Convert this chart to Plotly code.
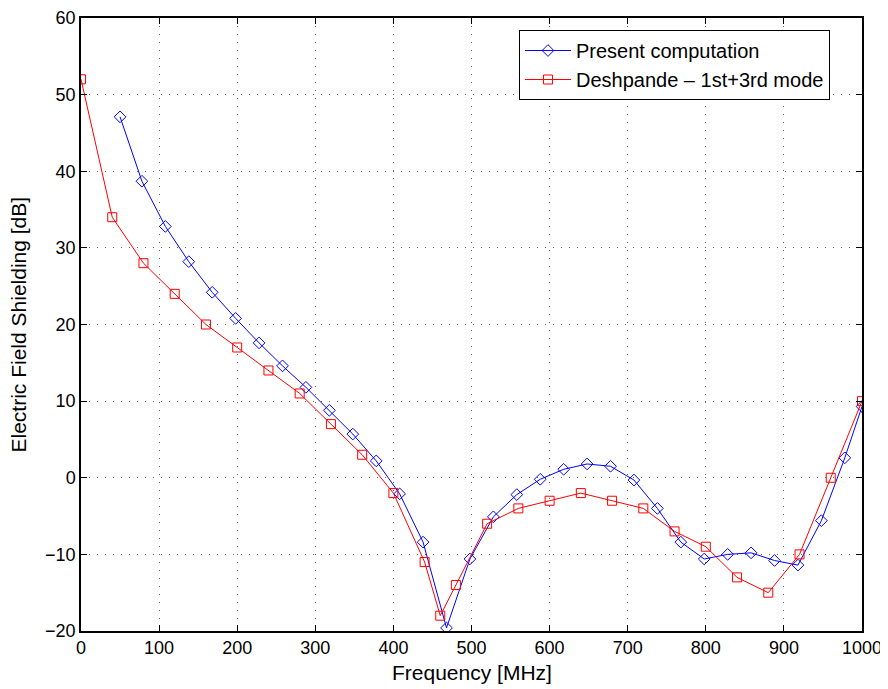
import plotly.graph_objects as go

# Present computation (blue diamonds)
blue_freq = [50, 78, 108, 138, 168, 198, 228, 258, 288, 318, 348, 378, 408, 438, 468,
             498, 528, 558, 588, 618, 648, 678, 708, 738, 768, 798, 828, 858, 888, 918,
             948, 978, 1000]
blue_db = [47.1, 38.7, 32.8, 28.2, 24.2, 20.8, 17.6, 14.6, 11.8, 8.8, 5.7, 2.2, -2.1, -8.4,
           -19.6, -10.6, -5.1, -2.2, -0.2, 1.1, 1.8, 1.5, -0.3, -4.0, -8.4, -10.6, -10.0,
           -9.8, -10.8, -11.4, -5.6, 2.6, 9.3]

# Deshpande - 1st+3rd mode (red squares)
red_freq = [0, 40, 80, 120, 160, 200, 240, 280, 320, 360, 400, 440, 460, 480, 520, 560,
            600, 640, 680, 720, 760, 800, 840, 880, 920, 960, 1000]
red_db = [52, 34, 28, 24, 20, 17, 14, 11, 7, 3, -2, -11, -18, -14, -6, -4,
          -3, -2, -3, -4, -7, -9, -13, -15, -10, 0, 10]

x_ticks = [0, 100, 200, 300, 400, 500, 600, 700, 800, 900, 1000]
y_ticks = [-20, -10, 0, 10, 20, 30, 40, 50, 60]

x_title = "Frequency [MHz]"
y_title = "Electric Field Shielding [dB]"

FONT = "Liberation Sans, Arial, Helvetica, sans-serif"

fig = go.Figure()
fig.add_trace(go.Scatter(
    x=blue_freq, y=blue_db, mode="lines+markers", name="Present computation",
    line=dict(color="#0000ff", width=1),
    marker=dict(symbol="diamond-open", size=9, color="#0000ff", line=dict(width=1)),
))
fig.add_trace(go.Scatter(
    x=red_freq, y=red_db, mode="lines+markers", name="Deshpande \u2013 1st+3rd mode",
    line=dict(color="#ff0000", width=1),
    marker=dict(symbol="square-open", size=9, color="#ff0000", line=dict(width=1)),
))

axis_common = dict(
    showline=True, linecolor="black", linewidth=1.5, mirror="ticks",
    ticks="inside", ticklen=6, tickcolor="black", tickwidth=1,
    showgrid=True, gridcolor="rgba(0,0,0,0.6)", gridwidth=1, griddash="1px,7px",
    zeroline=False, automargin=False,
    tickfont=dict(family=FONT, size=18, color="black"),
)

fig.update_xaxes(range=[0, 1000], tickvals=x_ticks, **axis_common)
fig.update_yaxes(range=[-20, 60], tickvals=y_ticks, **axis_common)

fig.add_annotation(text=x_title, xref="paper", yref="paper", x=0.5, y=0,
                   xanchor="center", yanchor="middle", yshift=-41, showarrow=False,
                   font=dict(family=FONT, size=21, color="black"))
fig.add_annotation(text=y_title, xref="paper", yref="paper", x=0, y=0.5,
                   xanchor="center", yanchor="middle", xshift=-63, textangle=-90,
                   showarrow=False, font=dict(family=FONT, size=21, color="black"))

# page body has an 8px margin, so the figure is 8px smaller and margins shifted
fig.update_layout(
    width=880, height=681,
    margin=dict(l=73, r=26, t=10, b=58),
    paper_bgcolor="white", plot_bgcolor="white",
    font=dict(family=FONT, color="black"),
    legend=dict(x=0.959, y=0.9804, xanchor="right", yanchor="top",
                bgcolor="white", bordercolor="black", borderwidth=1,
                font=dict(family=FONT, size=20, color="black"),
                itemwidth=46, tracegroupgap=0),
    showlegend=True,
)

fig.write_html("out.html")
